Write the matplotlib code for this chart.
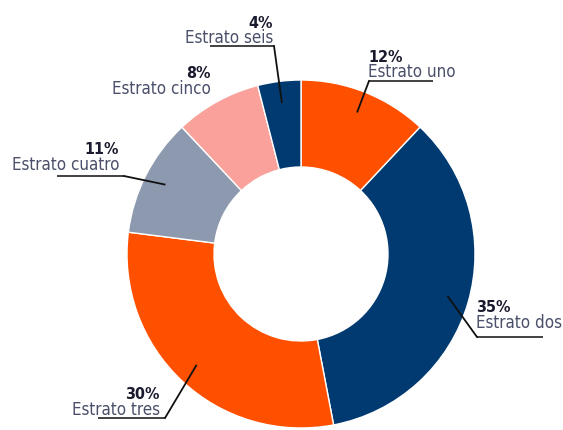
import matplotlib
matplotlib.use("Agg")
import matplotlib.pyplot as plt
import numpy as np

categories = ["Estrato uno", "Estrato dos", "Estrato tres", "Estrato cuatro", "Estrato cinco", "Estrato seis"]
values = [12, 35, 30, 11, 8, 4]
pct_labels = ["12%", "35%", "30%", "11%", "8%", "4%"]
colors = ["#FF5000", "#003A70", "#FF5000", "#8D99AE", "#F9A19A", "#003A70"]

# layout (pixel coordinates, y measured from top)
W, H = 563, 431
CX, CY, R = 301, 255, 174
label_layout = [
    dict(x=368, y=77, ha="left", line=(369, 433, 82), knee=(369, 82)),
    dict(x=476, y=328, ha="left", line=(477, 543, 338), knee=(477, 338)),
    dict(x=160, y=415, ha="right", line=(98, 165, 419), knee=(165, 419)),
    dict(x=119, y=170, ha="right", line=(57, 124, 177), knee=(124, 177)),
    dict(x=211, y=94, ha="right", line=None, knee=None),
    dict(x=273, y=43, ha="right", line=(210, 274, 47), knee=(274, 47)),
]

plt.rcParams['font.family'] = ['DejaVu Sans']

fig = plt.figure(figsize=(W / 100, H / 100), dpi=100)
ax = fig.add_axes([0, 0, 1, 1])

def fy(y):
    return H - y

ax.pie(values, colors=colors, startangle=90, counterclock=False,
       center=(CX, fy(CY)), radius=R,
       wedgeprops=dict(width=R * 0.5, edgecolor="white", linewidth=1.0))
ax.set_xlim(0, W)
ax.set_ylim(0, H)
ax.set_aspect("equal")
ax.axis("off")

total = sum(values)
cum = 0
for i, v in enumerate(values):
    mid = (cum + v / 2) / total * 2 * np.pi
    cum += v
    lay = label_layout[i]
    ax.text(lay["x"], fy(lay["y"]) + 15.5, pct_labels[i], ha=lay["ha"], va="baseline",
            fontsize=11.5, fontweight="bold", fontstretch="condensed", color="#1b1b2f")
    ax.text(lay["x"], fy(lay["y"]), categories[i], ha=lay["ha"], va="baseline",
            fontsize=12.2, fontstretch="condensed", color="#4a4f6a")
    if lay["line"] is not None:
        rr = 0.88 * R
        px = CX + rr * np.sin(mid)
        py = CY - rr * np.cos(mid)
        x0, x1, yl = lay["line"]
        kx, ky = lay["knee"]
        ax.plot([x0, x1], [fy(yl), fy(yl)], color="#333333", lw=1.3, solid_capstyle="butt")
        ax.plot([kx, px], [fy(ky), fy(py)], color="#111111", lw=1.3)

fig.savefig("out.png", dpi=100, facecolor="white")
